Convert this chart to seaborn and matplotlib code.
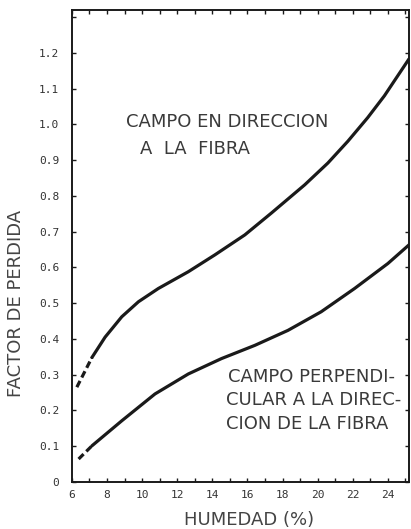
import numpy as np
import pandas as pd
import seaborn as sns
import matplotlib.pyplot as plt

# Curve readings (humedad %, factor de perdida)
hum_paralelo = [7.14, 7.89, 8.84, 9.79, 10.92, 12.63, 14.14, 15.85, 17.36, 19.26, 20.58, 21.72, 22.85, 23.8, 24.37, 25.2]
fp_paralelo = [0.348, 0.405, 0.462, 0.504, 0.541, 0.588, 0.635, 0.691, 0.752, 0.831, 0.892, 0.953, 1.019, 1.08, 1.122, 1.183]
hum_paralelo_ini = [6.28, 7.14]
fp_paralelo_ini = [0.265, 0.348]

hum_perpend = [7.14, 8.84, 10.73, 12.63, 14.52, 16.42, 18.31, 20.2, 22.1, 24.0, 25.2]
fp_perpend = [0.101, 0.171, 0.246, 0.302, 0.345, 0.382, 0.424, 0.476, 0.541, 0.611, 0.663]
hum_perpend_ini = [6.38, 7.14]
fp_perpend_ini = [0.064, 0.101]

x_ticks = [6, 8, 10, 12, 14, 16, 18, 20, 22, 24]
y_ticks = [0, 0.1, 0.2, 0.3, 0.4, 0.5, 0.6, 0.7, 0.8, 0.9, 1.0, 1.1, 1.2]
y_ticklabels = ["0", "0.1", "0.2", "0.3", "0.4", "0.5", "0.6", "0.7", "0.8", "0.9", "1.0", "1.1", "1.2"]

sns.set_style("ticks")
plt.rcParams["font.family"] = ["DejaVu Sans"]

fig = plt.figure(figsize=(4.11, 5.29), dpi=100)
ax = fig.add_axes([0.175, 0.089, 0.82, 0.892])

ink = "#1a1a1a"
for hx, fy, hx0, fy0 in [(hum_paralelo, fp_paralelo, hum_paralelo_ini, fp_paralelo_ini),
                         (hum_perpend, fp_perpend, hum_perpend_ini, fp_perpend_ini)]:
    sns.lineplot(x=hx, y=fy, ax=ax, color=ink, lw=2.3, sort=False)
    sns.lineplot(x=hx0, y=fy0, ax=ax, color=ink, lw=2.3, sort=False, linestyle=(0, (2.2, 1.2)))

ax.set_xlim(6, 25.2)
ax.set_ylim(0, 1.32)
ax.set_xticks(x_ticks)
ax.set_xticks(np.arange(6, 26, 1), minor=True)
ax.set_yticks(y_ticks + [1.3])
ax.set_yticklabels(y_ticklabels + [""])
ax.tick_params(axis="both", which="both", direction="in", top=True, right=True,
               length=3, width=1, labelsize=8, colors=ink, labelcolor="#333333")
ax.tick_params(axis="y", pad=9)
ax.tick_params(axis="x", pad=6)
for lab in ax.get_xticklabels() + ax.get_yticklabels():
    lab.set_family("DejaVu Sans Mono")
for s in ax.spines.values():
    s.set_linewidth(1.4)
    s.set_color(ink)

ax.set_xlabel("HUMEDAD (%)", fontsize=13, color="#444444")
ax.xaxis.set_label_coords(0.525, -0.062)
ax.set_ylabel("FACTOR DE PERDIDA", fontsize=13, color="#444444")
ax.yaxis.set_label_coords(-0.14, 0.379)

txt = dict(fontsize=13, color="#3a3a3a", va="center", ha="left")
ax.text(9.1, 1.006, "CAMPO EN DIRECCION", **txt)
ax.text(9.9, 0.93, "A  LA  FIBRA", **txt)
ax.text(14.9, 0.293, "CAMPO PERPENDI-", **txt)
ax.text(14.8, 0.228, "CULAR A LA DIREC-", **txt)
ax.text(14.8, 0.163, "CION DE LA FIBRA", **txt)

fig.savefig("out.png", dpi=100)
